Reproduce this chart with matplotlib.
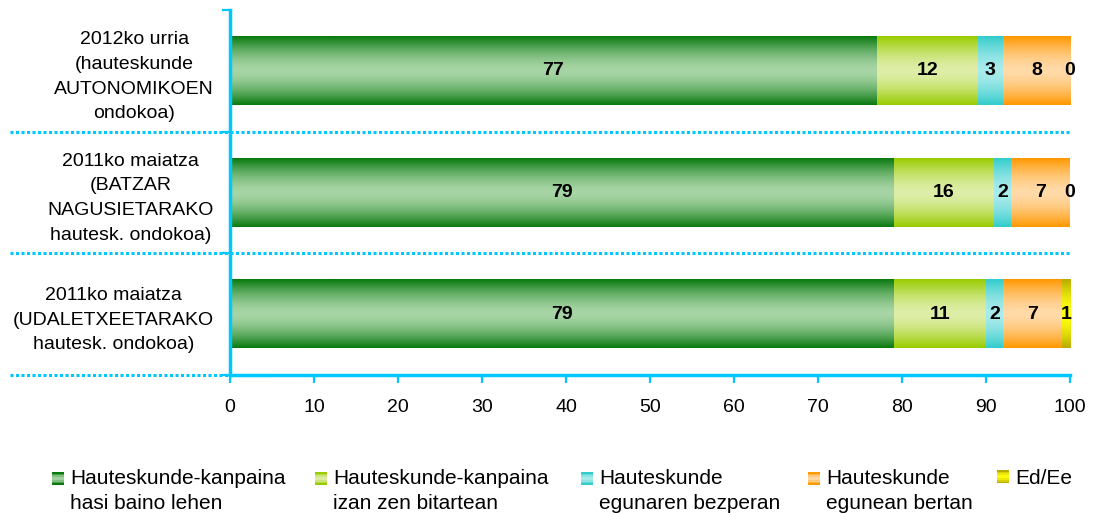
import matplotlib
matplotlib.use('Agg')
import matplotlib.pyplot as plt
import numpy as np
from matplotlib.colors import to_rgb
from matplotlib.legend_handler import HandlerBase
from matplotlib.patches import Rectangle

plt.rcParams['font.family'] = ['Liberation Sans', 'DejaVu Sans']

categories = [
    '2012ko urria\n(hauteskunde\nAUTONOMIKOEN\nondokoa)',
    '2011ko maiatza\n(BATZAR\nNAGUSIETARAKO\nhautesk. ondokoa)',
    '2011ko maiatza\n(UDALETXEETARAKO\nhautesk. ondokoa)',
]
series_names = [
    'Hauteskunde-kanpaina\nhasi baino lehen',
    'Hauteskunde-kanpaina\nizan zen bitartean',
    'Hauteskunde\negunaren bezperan',
    'Hauteskunde\negunean bertan',
    'Ed/Ee',
]
before = [77, 79, 79]
during = [12, 12, 11]
eve = [3, 2, 2]
election_day = [8, 7, 7]
dk = [0, 0, 1]
# numbers printed on the segments (the original prints 16 on a 12-wide segment)
before_lbl = ['77', '79', '79']
during_lbl = ['12', '16', '11']
eve_lbl = ['3', '2', '2']
day_lbl = ['8', '7', '7']
dk_lbl = ['0', '0', '1']
x_ticks = list(range(0, 101, 10))

# (edge colour, middle colour) for the vertical gradients
shades = [
    ('#0a7a10', '#a7d5a5'),
    ('#99cc00', '#deeea8'),
    ('#33cccc', '#aaebeb'),
    ('#ff9900', '#ffdaa8'),
    ('#b8ac00', '#ffff10'),
]
axis_color = '#00c8ff'


def gradient_colors(edge, mid, n=64):
    t = np.abs(np.linspace(-1, 1, n)) ** 1.6
    e, m = np.array(to_rgb(edge)), np.array(to_rgb(mid))
    return m + (e - m) * t[:, None]


class GradientHandler(HandlerBase):
    """Small gradient square, lifted so it sits beside the first text line."""

    def __init__(self, edge, mid, lift=0.0):
        super().__init__()
        self.edge, self.mid, self.lift = edge, mid, lift

    def create_artists(self, legend, orig_handle, xdescent, ydescent,
                       width, height, fontsize, trans):
        n = 8
        cols = gradient_colors(self.edge, self.mid, n)
        y0 = -ydescent + self.lift
        return [Rectangle((-xdescent, y0 + height * i / n), width, height / n + 0.2,
                          facecolor=cols[i], edgecolor='none', transform=trans)
                for i in range(n)]


W, H = 1093, 513
fig = plt.figure(figsize=(W / 100, H / 100), dpi=100)
ax = fig.add_axes([230 / W, 1 - 375 / H, 840 / W, 365 / H])

values = [before, during, eve, election_day, dk]
labels = [before_lbl, during_lbl, eve_lbl, day_lbl, dk_lbl]
y = np.arange(len(categories))
left = np.zeros(len(categories))
for vals, lbls, (edge, mid) in zip(values, labels, shades):
    bars = ax.barh(y, vals, left=left, height=0.56, color='none', edgecolor='none')
    grad = gradient_colors(edge, mid)[:, None, :]
    for bar, lbl in zip(bars, lbls):
        x0, y0, w, h = bar.get_x(), bar.get_y(), bar.get_width(), bar.get_height()
        if w > 0:
            ax.imshow(grad, extent=(x0, x0 + w, y0, y0 + h), aspect='auto',
                      interpolation='bilinear', zorder=2)
        ax.text(x0 + w / 2, y0 + h / 2, lbl, ha='center', va='center',
                fontsize=14, fontweight='bold', color='black', zorder=3)
    left += np.array(vals)

ax.set_xlim(0, 100)
ax.set_ylim(len(categories) - 0.5, -0.5)

# dotted separators between categories
dot = dict(color=axis_color, lw=2.2, linestyle=(0, (1, 0.8)), clip_on=False,
           transform=ax.get_yaxis_transform(), zorder=1)
for b in [0.5, 1.5]:
    ax.plot([-0.262, 1.0], [b, b], **dot)
ax.plot([-0.262, 0.048], [2.5, 2.5], **dot)

for s in ['top', 'right']:
    ax.spines[s].set_visible(False)
for s in ['left', 'bottom']:
    ax.spines[s].set_color(axis_color)
    ax.spines[s].set_linewidth(2.5)
    ax.spines[s].set_zorder(4)

ax.set_xticks(x_ticks)
ax.tick_params(axis='x', direction='out', length=6, width=1.6, color=axis_color,
               labelsize=14, pad=11)
ax.set_yticks(y)
ax.set_yticklabels(categories, fontsize=14)
for t in ax.get_yticklabels():
    t.set_horizontalalignment('right')
    t.set_multialignment('center')
    t.set_linespacing(1.6)
ax.tick_params(axis='y', which='major', length=0, pad=11.5)
ax.set_yticks([-0.5, 0.5, 1.5, 2.5], minor=True)
ax.tick_params(axis='y', which='minor', direction='out', length=6, width=1.6, color=axis_color)

# one legend per entry, positioned like the original
marker_x = [52, 315, 581, 808, 997]
for name, (edge, mid), mx in zip(series_names, shades, marker_x):
    h = Rectangle((0, 0), 1, 1)
    two_lines = '\n' in name
    leg = fig.legend([h], [name], loc='upper left', bbox_to_anchor=(mx / W, 1 - 469 / H),
                     frameon=False, fontsize=15, borderpad=0, borderaxespad=0,
                     handlelength=0.58, handleheight=0.58, handletextpad=0.3,
                     handler_map={h: GradientHandler(edge, mid, 9.0 if two_lines else 0.0)})
    for t in leg.get_texts():
        t.set_linespacing(1.37)

fig.savefig('out.png', dpi=100)
